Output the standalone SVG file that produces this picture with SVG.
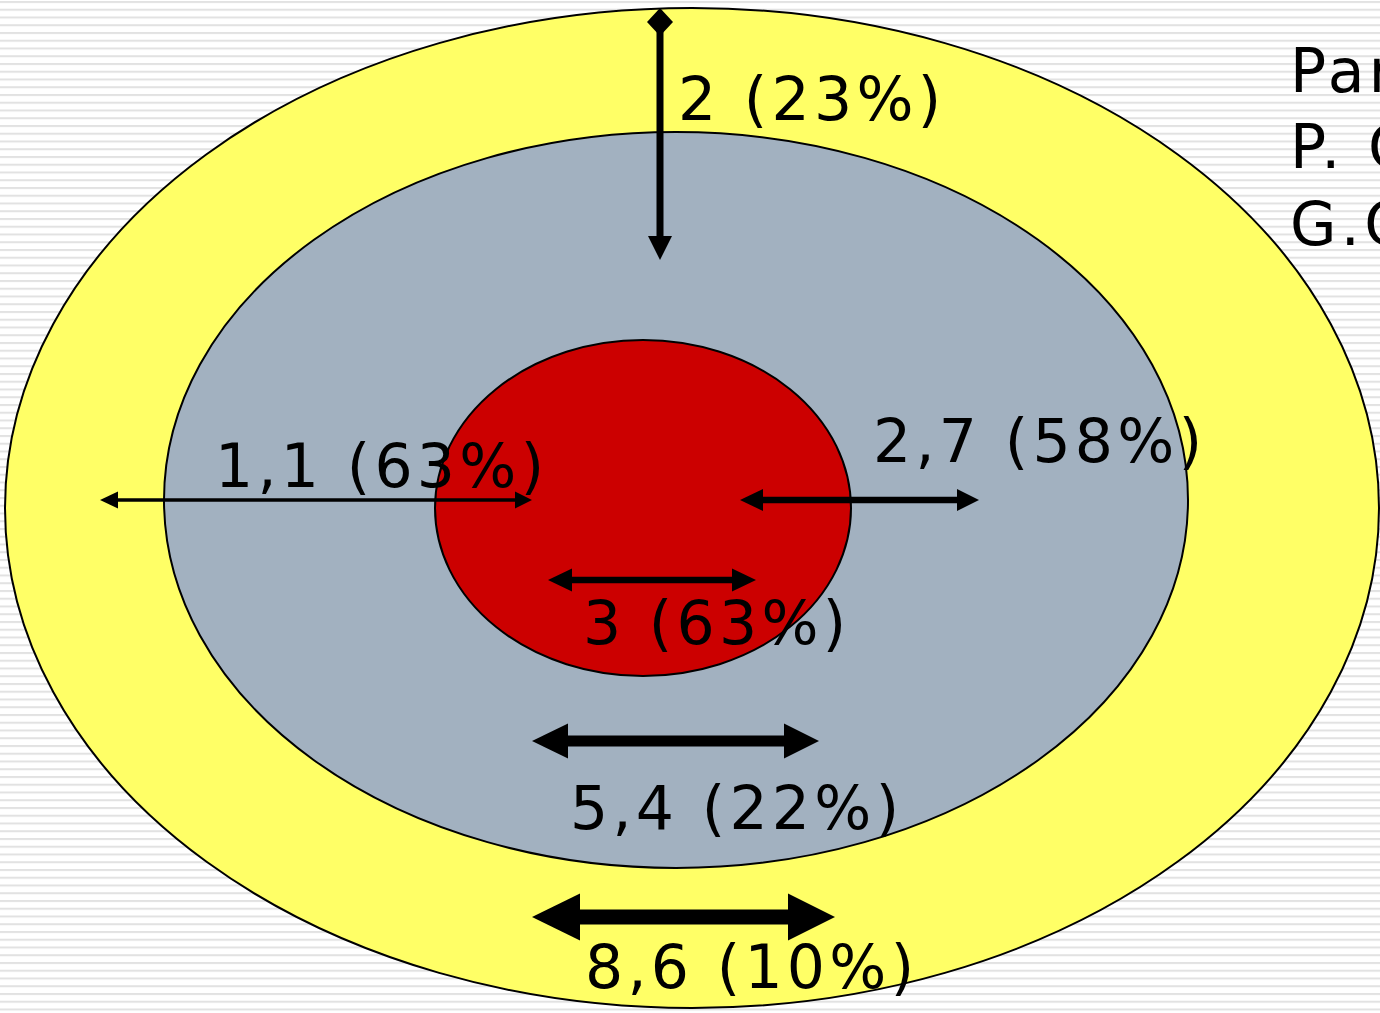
<svg xmlns="http://www.w3.org/2000/svg" width="1380" height="1013" viewBox="0 0 1380 1013">
<defs>
<pattern id="stripes" x="0" y="0" width="20" height="7.75" patternUnits="userSpaceOnUse">
<rect x="0" y="0" width="20" height="7.75" fill="#ffffff"/>
<rect x="0" y="1" width="20" height="2" fill="#e2e2e2"/>
</pattern>
</defs>
<style>
.ring{stroke:#000;stroke-width:2}
.lbl{font-family:"DejaVu Sans","Verdana",sans-serif;font-size:60px;fill:#000;letter-spacing:4.3px}
.ln{stroke:#000;fill:none}
.hd{fill:#000}
</style>
<rect x="0" y="0" width="1380" height="1013" fill="url(#stripes)"/>
<g id="outer"><ellipse class="ring" cx="692" cy="508" rx="687" ry="500" fill="#FFFF66"/></g>
<g id="middle"><ellipse class="ring" cx="676" cy="500" rx="512" ry="368" fill="#A2B1C0"/></g>
<g id="inner"><ellipse class="ring" cx="643" cy="508" rx="208" ry="168" fill="#CC0000"/></g>
<g id="connectors">
<line class="ln" x1="660" y1="22" x2="660" y2="240" stroke-width="7"/>
<polygon class="hd" points="660,8 673,22 660,36 647,22"/>
<polygon class="hd" points="648,236 672,236 660,260"/>
<line class="ln" x1="115" y1="500" x2="518" y2="500" stroke-width="3.3"/>
<polygon class="hd" points="100,500 118,491.5 118,508.5"/>
<polygon class="hd" points="532,500 515,491.5 515,508.5"/>
<line class="ln" x1="760" y1="500" x2="960" y2="500" stroke-width="6.5"/>
<polygon class="hd" points="740,500 763,489 763,511"/>
<polygon class="hd" points="979,500 957,489 957,511"/>
<line class="ln" x1="568" y1="580" x2="736" y2="580" stroke-width="6.5"/>
<polygon class="hd" points="548,580 572,568.5 572,591.5"/>
<polygon class="hd" points="756,580 732,568.5 732,591.5"/>
<line class="ln" x1="565" y1="741" x2="787" y2="741" stroke-width="11"/>
<polygon class="hd" points="532,741 568,723.5 568,758.5"/>
<polygon class="hd" points="819,741 784,723.5 784,758.5"/>
<line class="ln" x1="575" y1="917" x2="792" y2="917" stroke-width="15"/>
<polygon class="hd" points="532,917 580,893.5 580,940.5"/>
<polygon class="hd" points="835,917 788,893.5 788,940.5"/>
</g>
<g id="labels">
<text class="lbl" x="678" y="120">2 (23%)</text>
<text class="lbl" x="215" y="487">1,1 (63%)</text>
<text class="lbl" x="873" y="462">2,7 (58%)</text>
<text class="lbl" x="583" y="644">3 (63%)</text>
<text class="lbl" x="570" y="829">5,4 (22%)</text>
<text class="lbl" x="585" y="988">8,6 (10%)</text>
</g>
<g id="note">
<text class="lbl" x="1290" y="92">Par</text>
<text class="lbl" x="1290" y="168">P. C</text>
<text class="lbl" x="1290" y="245">G.C</text>
</g>
</svg>
